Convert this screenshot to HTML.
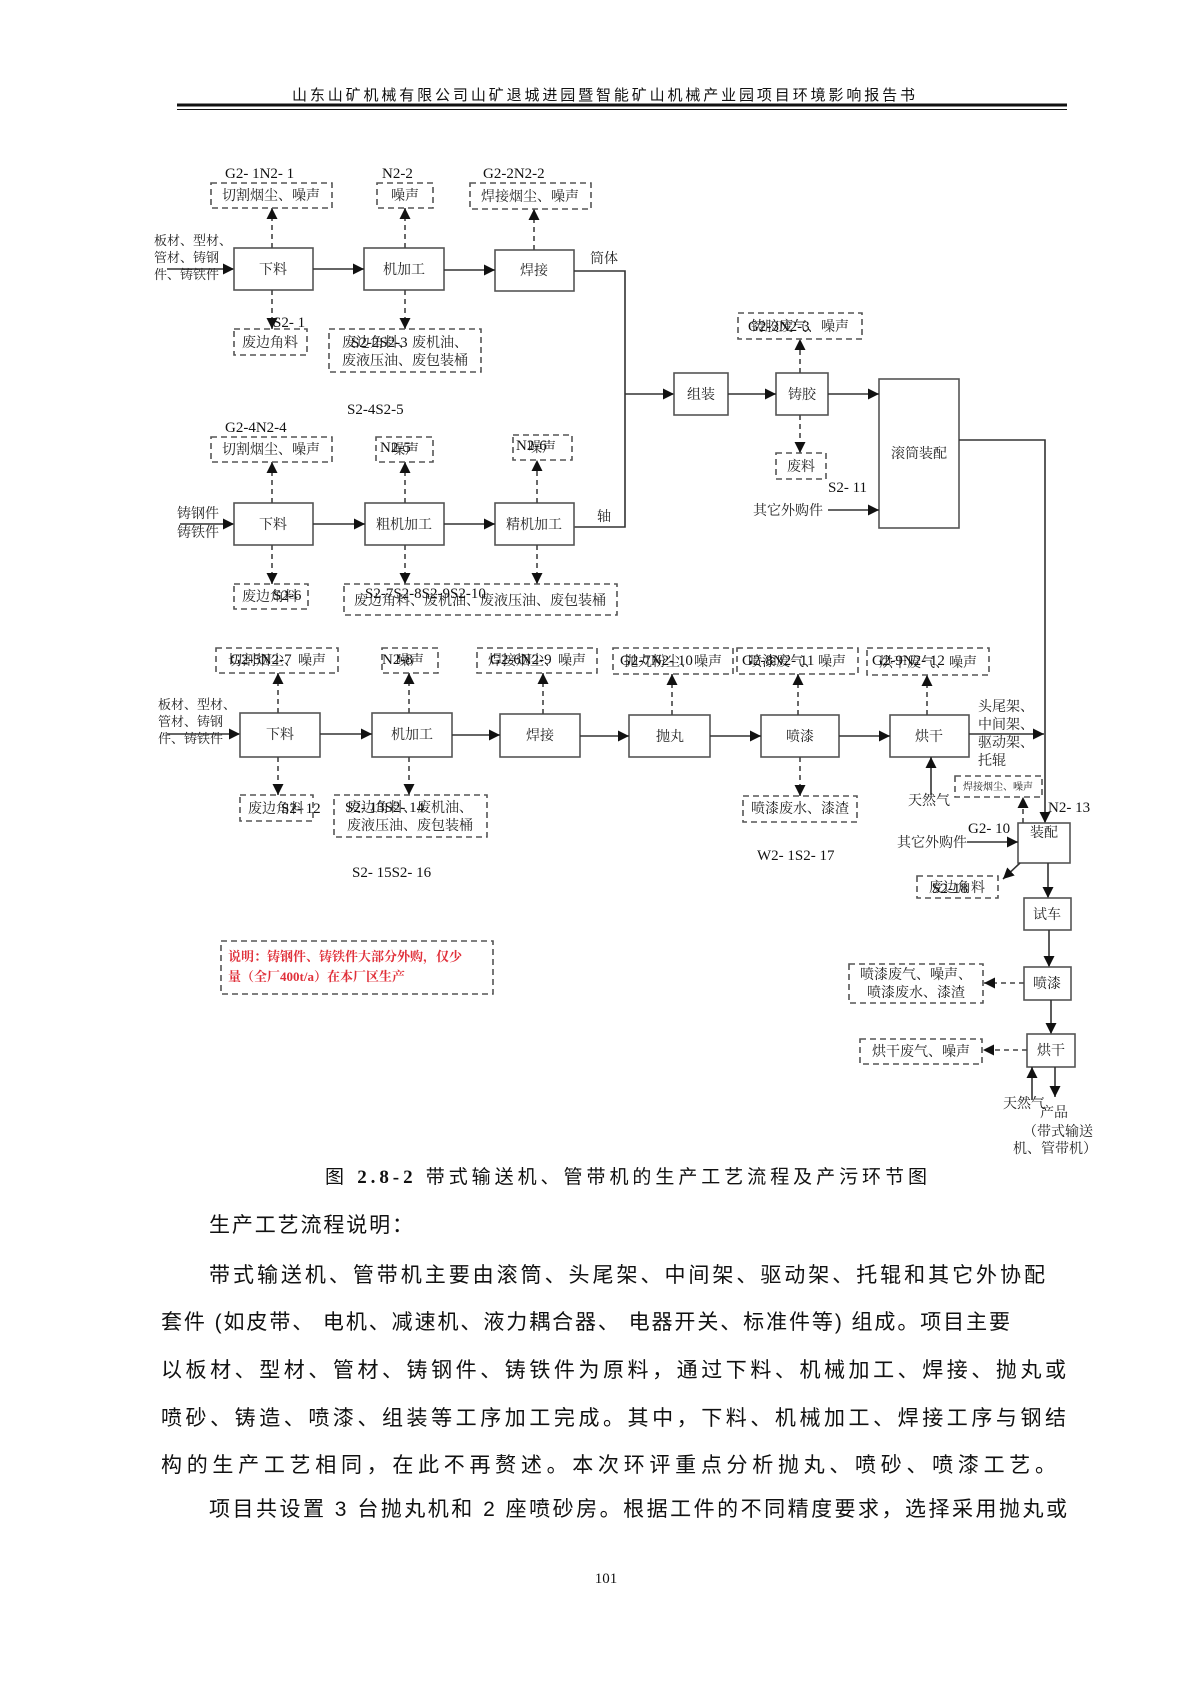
<!DOCTYPE html>
<html><head><meta charset="utf-8"><style>
html,body{margin:0;padding:0;background:#fff;}
svg{display:block;}
.c{font-family:"Liberation Serif","Noto Serif CJK SC","Noto Sans CJK SC",serif;font-size:14px;fill:#222;}
.l{font-family:"Liberation Serif",serif;font-size:15px;fill:#111;}
.b{fill:#fff;stroke:#555;stroke-width:1.6;}
.d{fill:#fff;stroke:#555;stroke-width:1.6;stroke-dasharray:6,4;}
.ln{stroke:#333;stroke-width:1.6;fill:none;}
.dl{stroke:#444;stroke-width:1.6;fill:none;stroke-dasharray:5,4;}
.t{font-family:"Liberation Sans","Noto Sans CJK SC",sans-serif;fill:#111;}
</style></head><body>
<svg width="1190" height="1683" viewBox="0 0 1190 1683" xmlns="http://www.w3.org/2000/svg">
<defs><marker id="a" viewBox="0 0 10 10" refX="10" refY="5" markerWidth="11" markerHeight="11" markerUnits="userSpaceOnUse" orient="auto"><path d="M0,0L10,5L0,10z" fill="#111"/></marker></defs>

<text x="292" y="100" class="t" font-size="15" textLength="623">山东山矿机械有限公司山矿退城进园暨智能矿山机械产业园项目环境影响报告书</text>
<line x1="177" y1="105" x2="1067" y2="105" stroke="#111" stroke-width="3"/>
<line x1="177" y1="109.5" x2="1067" y2="109.5" stroke="#111" stroke-width="1"/>

<!-- Row 1 -->
<g class="c" style="font-size:13px">
<text x="154" y="245">板材、型材、</text><text x="154" y="262">管材、铸钢</text><text x="154" y="279">件、铸铁件</text>
</g>
<line class="ln" x1="167" y1="269" x2="234" y2="269" marker-end="url(#a)"/>
<rect class="b" x="234" y="248" width="79" height="42"/>
<rect class="b" x="364" y="248" width="80" height="42"/>
<rect class="b" x="495" y="250" width="79" height="41"/>
<line class="ln" x1="313" y1="269" x2="364" y2="269" marker-end="url(#a)"/>
<line class="ln" x1="444" y1="270" x2="495" y2="270" marker-end="url(#a)"/>
<line class="dl" x1="272" y1="248" x2="272" y2="208" marker-end="url(#a)"/>
<line class="dl" x1="405" y1="248" x2="405" y2="208" marker-end="url(#a)"/>
<line class="dl" x1="534" y1="250" x2="534" y2="209" marker-end="url(#a)"/>
<rect class="d" x="211" y="183" width="121" height="25"/>
<rect class="d" x="377" y="183" width="56" height="25"/>
<rect class="d" x="470" y="183" width="121" height="26"/>
<line class="dl" x1="272" y1="290" x2="272" y2="329" marker-end="url(#a)"/>
<line class="dl" x1="405" y1="290" x2="405" y2="329" marker-end="url(#a)"/>
<rect class="d" x="234" y="329" width="73" height="26"/>
<rect class="d" x="329" y="329" width="152" height="43"/>
<g class="c" text-anchor="middle">
<text x="273" y="274">下料</text><text x="404" y="274">机加工</text><text x="534" y="275">焊接</text>
<text x="271" y="200">切割烟尘、噪声</text><text x="405" y="200">噪声</text><text x="530" y="201">焊接烟尘、噪声</text>
<text x="270" y="347">废边角料</text><text x="405" y="347">废边角料、废机油、</text><text x="405" y="365">废液压油、废包装桶</text>
</g>
<text class="c" x="590" y="263">筒体</text>
<g class="l">
<text x="225" y="178">G2- 1N2- 1</text><text x="382" y="178">N2-2</text><text x="483" y="178">G2-2N2-2</text>
<text x="273" y="327">S2- 1</text><text x="351" y="347">S2-2S2-3</text><text x="347" y="414">S2-4S2-5</text>
</g>
<polyline class="ln" points="574,271 625,271 625,527 574,527"/>
<line class="ln" x1="625" y1="394" x2="674" y2="394" marker-end="url(#a)"/>

<!-- Right assembly -->
<rect class="b" x="674" y="373" width="54" height="42"/>
<rect class="b" x="776" y="373" width="52" height="42"/>
<rect class="b" x="879" y="379" width="80" height="149"/>
<line class="ln" x1="728" y1="394" x2="776" y2="394" marker-end="url(#a)"/>
<line class="ln" x1="828" y1="394" x2="879" y2="394" marker-end="url(#a)"/>
<line class="dl" x1="800" y1="373" x2="800" y2="339" marker-end="url(#a)"/>
<rect class="d" x="738" y="313" width="124" height="26"/>
<line class="dl" x1="800" y1="415" x2="800" y2="453" marker-end="url(#a)"/>
<rect class="d" x="776" y="453" width="50" height="26"/>
<line class="ln" x1="828" y1="510" x2="879" y2="510" marker-end="url(#a)"/>
<g class="c" text-anchor="middle">
<text x="701" y="399">组装</text><text x="802" y="399">铸胶</text><text x="919" y="458">滚筒装配</text>
<text x="800" y="331">铸胶废气、噪声</text><text x="801" y="471">废料</text>
</g>
<text class="c" x="753" y="515">其它外购件</text>
<text class="l" x="748" y="331">G2-3N2-3</text>
<text class="l" x="828" y="492">S2- 11</text>
<polyline class="ln" points="959,440 1045,440 1045,823" marker-end="url(#a)"/>

<!-- Row 2 -->
<g class="c"><text x="177" y="518">铸钢件</text><text x="177" y="537">铸铁件</text></g>
<line class="ln" x1="180" y1="524" x2="234" y2="524" marker-end="url(#a)"/>
<rect class="b" x="234" y="503" width="79" height="42"/>
<rect class="b" x="365" y="503" width="79" height="42"/>
<rect class="b" x="495" y="503" width="79" height="42"/>
<line class="ln" x1="313" y1="524" x2="365" y2="524" marker-end="url(#a)"/>
<line class="ln" x1="444" y1="524" x2="495" y2="524" marker-end="url(#a)"/>
<line class="dl" x1="272" y1="503" x2="272" y2="462" marker-end="url(#a)"/>
<line class="dl" x1="405" y1="503" x2="405" y2="462" marker-end="url(#a)"/>
<line class="dl" x1="537" y1="503" x2="537" y2="460" marker-end="url(#a)"/>
<rect class="d" x="211" y="437" width="121" height="25"/>
<rect class="d" x="376" y="437" width="57" height="25"/>
<rect class="d" x="513" y="435" width="59" height="25"/>
<line class="dl" x1="272" y1="545" x2="272" y2="584" marker-end="url(#a)"/>
<line class="dl" x1="405" y1="545" x2="405" y2="584" marker-end="url(#a)"/>
<line class="dl" x1="537" y1="545" x2="537" y2="584" marker-end="url(#a)"/>
<rect class="d" x="234" y="584" width="74" height="25"/>
<rect class="d" x="344" y="584" width="273" height="31"/>
<g class="c" text-anchor="middle">
<text x="273" y="529">下料</text><text x="404" y="529">粗机加工</text><text x="534" y="529">精机加工</text>
<text x="271" y="454">切割烟尘、噪声</text><text x="405" y="454">噪声</text><text x="542" y="452">噪声</text>
<text x="270" y="601">废边角料</text><text x="480" y="605">废边角料、废机油、废液压油、废包装桶</text>
</g>
<text class="c" x="597" y="521">轴</text>
<g class="l">
<text x="225" y="432">G2-4N2-4</text><text x="380" y="452">N2-5</text><text x="516" y="450">N2-6</text>
<text x="273" y="600">S2-6</text><text x="365" y="598">S2-7S2-8S2-9S2-10</text>
</g>

<!-- Row 3 -->
<g class="c" style="font-size:13px"><text x="158" y="709">板材、型材、</text><text x="158" y="726">管材、铸钢</text><text x="158" y="743">件、铸铁件</text></g>
<line class="ln" x1="167" y1="734" x2="240" y2="734" marker-end="url(#a)"/>
<rect class="b" x="240" y="713" width="80" height="44"/>
<rect class="b" x="372" y="713" width="80" height="44"/>
<rect class="b" x="500" y="714" width="80" height="43"/>
<rect class="b" x="629" y="715" width="81" height="42"/>
<rect class="b" x="761" y="715" width="78" height="42"/>
<rect class="b" x="890" y="715" width="79" height="42"/>
<line class="ln" x1="320" y1="734" x2="372" y2="734" marker-end="url(#a)"/>
<line class="ln" x1="452" y1="735" x2="500" y2="735" marker-end="url(#a)"/>
<line class="ln" x1="580" y1="736" x2="629" y2="736" marker-end="url(#a)"/>
<line class="ln" x1="710" y1="736" x2="761" y2="736" marker-end="url(#a)"/>
<line class="ln" x1="839" y1="736" x2="890" y2="736" marker-end="url(#a)"/>
<line class="ln" x1="969" y1="734" x2="1044" y2="734" marker-end="url(#a)"/>
<line class="dl" x1="278" y1="713" x2="278" y2="673" marker-end="url(#a)"/>
<line class="dl" x1="409" y1="713" x2="409" y2="673" marker-end="url(#a)"/>
<line class="dl" x1="543" y1="714" x2="543" y2="673" marker-end="url(#a)"/>
<line class="dl" x1="672" y1="715" x2="672" y2="674" marker-end="url(#a)"/>
<line class="dl" x1="798" y1="715" x2="798" y2="674" marker-end="url(#a)"/>
<line class="dl" x1="927" y1="715" x2="927" y2="675" marker-end="url(#a)"/>
<rect class="d" x="216" y="648" width="122" height="25"/>
<rect class="d" x="382" y="648" width="56" height="25"/>
<rect class="d" x="477" y="648" width="120" height="25"/>
<rect class="d" x="613" y="648" width="120" height="26"/>
<rect class="d" x="737" y="648" width="121" height="26"/>
<rect class="d" x="867" y="648" width="122" height="27"/>
<line class="dl" x1="278" y1="757" x2="278" y2="795" marker-end="url(#a)"/>
<line class="dl" x1="409" y1="757" x2="409" y2="795" marker-end="url(#a)"/>
<line class="dl" x1="800" y1="757" x2="800" y2="796" marker-end="url(#a)"/>
<rect class="d" x="240" y="795" width="73" height="26"/>
<rect class="d" x="334" y="795" width="153" height="42"/>
<rect class="d" x="743" y="796" width="114" height="26"/>
<line class="ln" x1="931" y1="795" x2="931" y2="757" marker-end="url(#a)"/>
<rect class="d" x="955" y="776" width="87" height="21"/>
<g class="c" text-anchor="middle">
<text x="280" y="739">下料</text><text x="412" y="739">机加工</text><text x="540" y="740">焊接</text>
<text x="670" y="741">抛丸</text><text x="800" y="741">喷漆</text><text x="929" y="741">烘干</text>
<text x="277" y="665">切割烟尘、噪声</text><text x="410" y="665">噪声</text><text x="537" y="665">焊接烟尘、噪声</text>
<text x="673" y="666">抛丸粉尘、噪声</text><text x="797" y="666">喷漆废气、噪声</text><text x="928" y="667">烘干废气、噪声</text>
<text x="276" y="813">废边角料</text><text x="410" y="812">废边角料、废机油、</text><text x="410" y="830">废液压油、废包装桶</text>
<text x="800" y="813">喷漆废水、漆渣</text>
<text x="998" y="790" font-size="10">焊接烟尘、噪声</text>
</g>
<g class="c"><text x="978" y="711">头尾架、</text><text x="978" y="729">中间架、</text><text x="978" y="747">驱动架、</text><text x="978" y="765">托辊</text>
<text x="908" y="805">天然气</text></g>
<g class="l">
<text x="230" y="664">G2-5N2-7</text><text x="382" y="664">N2-8</text><text x="490" y="664">G2-6N2-9</text>
<text x="620" y="665">G2-7N2- 10</text><text x="742" y="665">G2-8N2- 11</text><text x="872" y="665">G2-9N2- 12</text>
<text x="281" y="813">S2- 12</text><text x="345" y="812">S2- 13S2- 14</text>
<text x="352" y="877">S2- 15S2- 16</text><text x="757" y="860">W2- 1S2- 17</text>
</g>

<!-- Right vertical chain -->
<rect class="b" x="1018" y="823" width="52" height="40"/>
<line class="dl" x1="1023" y1="823" x2="1023" y2="797" marker-end="url(#a)"/>
<text class="l" x="1048" y="812" font-size="11">N2- 13</text>
<text class="l" x="968" y="833" font-size="11">G2- 10</text>
<text class="c" x="897" y="847">其它外购件</text>
<line class="ln" x1="967" y1="842" x2="1018" y2="842" marker-end="url(#a)"/>
<line class="ln" x1="1020" y1="863" x2="1003" y2="879" marker-end="url(#a)"/>
<rect class="d" x="917" y="876" width="81" height="22"/>
<text class="c" x="957" y="892" text-anchor="middle">废边角料</text>
<text class="l" x="932" y="893">S2-18</text>
<line class="ln" x1="1048" y1="863" x2="1048" y2="898" marker-end="url(#a)"/>
<rect class="b" x="1024" y="898" width="47" height="32"/>
<line class="ln" x1="1049" y1="930" x2="1049" y2="967" marker-end="url(#a)"/>
<rect class="b" x="1024" y="967" width="47" height="33"/>
<line class="dl" x1="1024" y1="983" x2="984" y2="983" marker-end="url(#a)"/>
<rect class="d" x="849" y="964" width="134" height="39"/>
<line class="ln" x1="1051" y1="1000" x2="1051" y2="1034" marker-end="url(#a)"/>
<rect class="b" x="1027" y="1034" width="48" height="33"/>
<line class="dl" x1="1027" y1="1050" x2="983" y2="1050" marker-end="url(#a)"/>
<rect class="d" x="860" y="1039" width="122" height="25"/>
<line class="ln" x1="1032" y1="1100" x2="1032" y2="1067" marker-end="url(#a)"/>
<line class="ln" x1="1055" y1="1067" x2="1055" y2="1097" marker-end="url(#a)"/>
<g class="c" text-anchor="middle">
<text x="1044" y="837">装配</text><text x="1047" y="919">试车</text><text x="1047" y="988">喷漆</text><text x="1051" y="1055">烘干</text>
<text x="916" y="979">喷漆废气、噪声、</text><text x="916" y="997">喷漆废水、漆渣</text>
<text x="921" y="1056">烘干废气、噪声</text>
</g>
<g class="c"><text x="1003" y="1108">天然气</text><text x="1040" y="1117">产品</text><text x="1023" y="1136">（带式输送</text><text x="1013" y="1153">机、管带机）</text></g>

<!-- Note -->
<rect class="d" x="221" y="941" width="272" height="53"/>
<g class="c" style="fill:#e0303a;font-weight:bold;font-size:13px"><text x="228" y="961">说明：铸钢件、铸铁件大部分外购，仅少</text><text x="228" y="981">量（全厂400t/a）在本厂区生产</text></g>

<!-- Caption & body -->
<text x="325" y="1183" class="t" font-size="19" textLength="602">图 <tspan font-weight="bold" font-family="Liberation Serif">2.8-2</tspan> 带式输送机、管带机的生产工艺流程及产污环节图</text>
<g class="t" font-size="21">
<text x="209" y="1232" textLength="204">生产工艺流程说明：</text>
<text x="209" y="1282" textLength="836">带式输送机、管带机主要由滚筒、头尾架、中间架、驱动架、托辊和其它外协配</text>
<text x="161" y="1329" textLength="849">套件 (如皮带、 电机、减速机、液力耦合器、 电器开关、标准件等) 组成。项目主要</text>
<text x="161" y="1377" textLength="905">以板材、型材、管材、铸钢件、铸铁件为原料，通过下料、机械加工、焊接、抛丸或</text>
<text x="161" y="1425" textLength="905">喷砂、铸造、喷漆、组装等工序加工完成。其中，下料、机械加工、焊接工序与钢结</text>
<text x="161" y="1472" textLength="895">构的生产工艺相同，在此不再赘述。本次环评重点分析抛丸、喷砂、喷漆工艺。</text>
<text x="209" y="1516" textLength="858">项目共设置 3 台抛丸机和 2 座喷砂房。根据工件的不同精度要求，选择采用抛丸或</text>
</g>
<text x="606" y="1583" class="l" font-size="14" text-anchor="middle">101</text>
</svg>
</body></html>
